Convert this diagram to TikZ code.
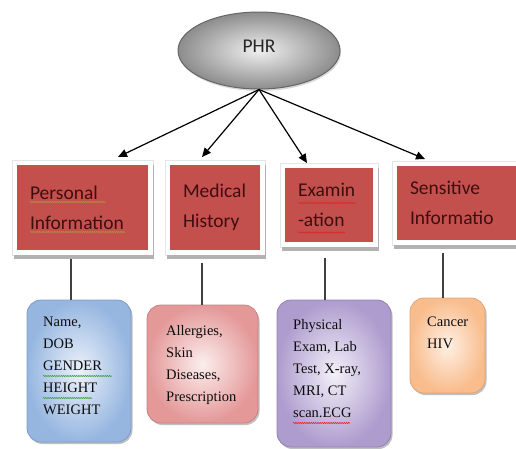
\documentclass[tikz,border=0pt]{standalone}
\usepackage{fontspec}
\setmainfont{Liberation Serif}
\newfontfamily\calib{Carlito}
\usetikzlibrary{shapes.geometric,arrows.meta,shadows,decorations.pathmorphing}
\definecolor{boxred}{RGB}{196,80,78}
\definecolor{redtxt}{RGB}{62,14,14}
\definecolor{bluee}{RGB}{150,182,224}
\definecolor{bluel}{RGB}{236,242,251}
\definecolor{blued}{RGB}{125,155,198}
\definecolor{pinke}{RGB}{228,152,152}
\definecolor{pinkl}{RGB}{252,238,238}
\definecolor{pinkd}{RGB}{200,130,130}
\definecolor{purpe}{RGB}{174,156,206}
\definecolor{purpl}{RGB}{243,240,249}
\definecolor{purpd}{RGB}{145,130,180}
\definecolor{orane}{RGB}{249,188,140}
\definecolor{oranl}{RGB}{254,240,228}
\definecolor{orand}{RGB}{225,165,120}
\definecolor{spellred}{RGB}{220,40,40}
\definecolor{spellgreen}{RGB}{60,160,60}
\definecolor{spellbrown}{RGB}{175,145,60}
\begin{document}
\begin{tikzpicture}[x=1pt,y=-1pt,
  catbox/.style={rectangle, fill=boxred, inner xsep=13pt, inner ysep=0pt,
    outer sep=4.5pt, align=left, text=redtxt,
    font=\calib\fontsize{19.5}{30}\selectfont,
    preaction={draw=black!10, line width=11pt},
    preaction={draw=black!30, fill=black!30, line width=9pt,
               transform canvas={xshift=1.5pt,yshift=-4pt}},
    preaction={draw=white, line width=9pt}},
  lowbox/.style n args={3}{rectangle, rounded corners=14pt, draw=#3,
    line width=0.8pt, inner color=#2, outer color=#1,
    drop shadow={shadow xshift=1.5pt, shadow yshift=-2pt, opacity=0.25, fill=black}},
  lowtxt/.style={anchor=north west, inner sep=0pt, align=left, text=black!95,
    font=\fontsize{14.5}{22}\selectfont},
  arr/.style={line width=1.2pt, black, -{Triangle[length=9pt,width=8pt]}},
  conn/.style={line width=1.6pt, black!75},
  spell/.style={line width=0.6pt, decorate,
    decoration={snake, segment length=2.2pt, amplitude=0.6pt}}
]
\useasboundingbox (0,0) rectangle (516,448);

% top ellipse
\node[ellipse, minimum width=162pt, minimum height=77pt, draw=black!60,
  line width=1pt, inner color=black!6, outer color=black!45,
  drop shadow={shadow xshift=1pt, shadow yshift=-2pt, opacity=0.15, fill=black},
  font=\calib\fontsize{19.5}{24}\selectfont, text=black!85,
  text height=12.6pt, text depth=9.6pt] (phr) at (259,50.5) {PHR};

% category boxes
\node[catbox, minimum width=131pt, minimum height=85pt, text width=105pt] (rb1) at (82.5,207.5) {Personal\\Information};
\node[catbox, minimum width=90pt, minimum height=85pt, text width=64pt] (rb2) at (215,207.5) {Medical\\History};
\node[catbox, minimum width=88pt, minimum height=74pt, text width=62pt] (rb3) at (329,205) {Examin\\-ation};
\node[catbox, minimum width=128pt, minimum height=74pt, text width=102pt] (rb4) at (461,203) {Sensitive\\Informatio};

% arrow targets
\coordinate (t1) at (118,157);
\coordinate (t2) at (202,157);
\coordinate (t3) at (307,163);
\coordinate (t4) at (425,159);
\draw[arr] (phr.south) -- (t1);
\draw[arr] (phr.south) -- (t2);
\draw[arr] (phr.south) -- (t3);
\draw[arr] (phr.south) -- (t4);

% detail boxes
\node[lowbox={bluee}{bluel}{blued}, minimum width=104pt, minimum height=142pt] (lb1) at (79,371) {};
\node[lowbox={pinke}{pinkl}{pinkd}, minimum width=111pt, minimum height=118pt] (lb2) at (202.5,364) {};
\node[lowbox={purpe}{purpl}{purpd}, minimum width=114pt, minimum height=147pt] (lb3) at (334,373.5) {};
\node[lowbox={orane}{oranl}{orand}, minimum width=75pt, minimum height=95pt] (lb4) at (447.5,345.5) {};

\node[lowtxt] (lt1) at (43,317) {Name,\\DOB\\GENDER\\HEIGHT\\WEIGHT};
\node[lowtxt] (lt2) at (166,325) {Allergies,\\Skin\\Diseases,\\Prescription};
\node[lowtxt] (lt3) at (293,319) {Physical\\Exam, Lab\\Test, X-ray,\\MRI, CT\\scan.ECG};
\node[lowtxt] (lt4) at (427,317) {Cancer\\HIV};

% vertical connectors
\coordinate (x1) at (71,0);
\coordinate (x2) at (202,0);
\coordinate (x3) at (325,0);
\coordinate (x4) at (443,0);
\draw[conn] (rb1.south -| x1) ++(0,4) -- (lb1.north -| x1);
\draw[conn] (rb2.south -| x2) ++(0,8) -- (lb2.north -| x2);
\draw[conn] (rb3.south -| x3) ++(0,11.5) -- (lb3.north -| x3);
\draw[conn] (rb4.south -| x4) ++(0,8.5) -- (lb4.north -| x4);

% spell-check underlines
\draw[spell, spellbrown] (30,202) -- (106,202);
\draw[spell, spellbrown] (30,232) -- (125,232);
\draw[spell, spellred] (298,203) -- (356,203);
\draw[spell, spellred] (298,232.5) -- (345,232.5);
\draw[spell, spellgreen] (43,376) -- (112,376);
\draw[spell, spellgreen] (43,398) -- (92,398);
\draw[spell, spellred] (293,423) -- (350,423);
\end{tikzpicture}
\end{document}
